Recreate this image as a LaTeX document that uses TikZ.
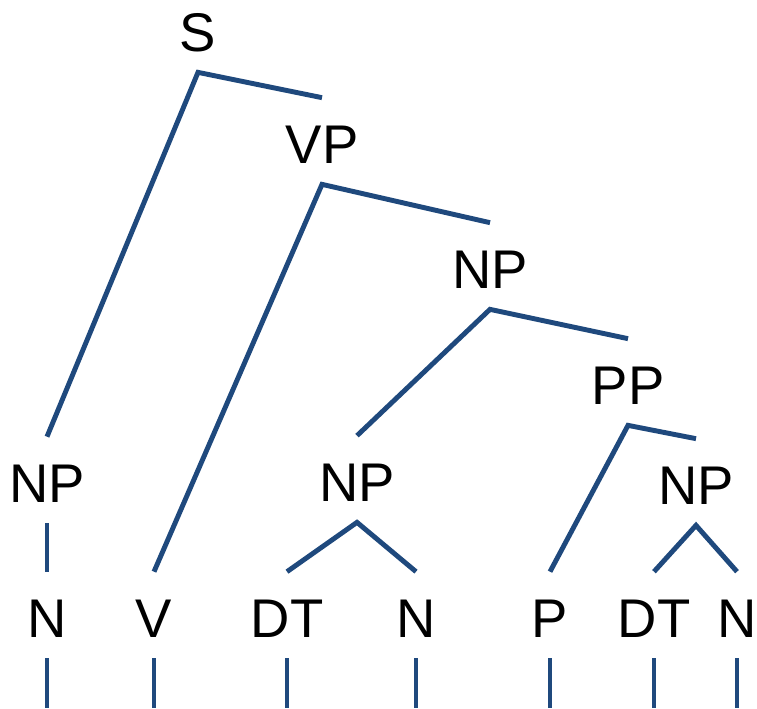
\documentclass[tikz,border=0pt]{standalone}
\usepackage{fontspec}
\setmainfont{Liberation Sans}
\usepackage{xcolor}
\usepackage{tikz}

\definecolor{treeblue}{RGB}{31,73,125}

\begin{document}
\begin{tikzpicture}[x=0.02cm, y=-0.02cm,
    cat/.style={font=\fontsize{31}{37}\selectfont, text height=0.88cm, text depth=0pt,
        inner xsep=0pt, inner ysep=0.42cm, anchor=base},
    edge/.style={draw=treeblue, line width=2.8pt}]
    \useasboundingbox (0,0) rectangle (757,708);
    % phrase nodes
    \node[cat] (s) at (198,51) {S};
    \node[cat] (vp) at (322,163) {VP};
    \node[cat] (np1) at (490,288) {NP};
    \node[cat] (pp) at (628,404) {PP};
    \node[cat] (np0) at (47,502) {NP};
    \node[cat] (np2) at (357,501) {NP};
    \node[cat] (np3) at (696,504) {NP};
    % word level
    \foreach \w/\x[count=\i] in {N/47, V/154, DT/287, N/416, P/550, DT/654, N/737} {
        \node[cat] (w\i) at (\x,637) {\w};
        \coordinate (e\i) at (\x,708);
        \draw[edge] (w\i.south) -- (e\i);
    }
    \draw[edge] (vp.north) -- (s.south) -- (np0.north);
    \draw[edge] (np1.north) -- (vp.south) -- (w2.north);
    \draw[edge] (pp.north) -- (np1.south) -- (np2.north);
    \draw[edge] (np3.north) -- (pp.south) -- (w5.north);
    \draw[edge] (np0.south) -- (w1.north);
    \draw[edge] (w3.north) -- (np2.south) -- (w4.north);
    \draw[edge] (w6.north) -- (np3.south) -- (w7.north);
\end{tikzpicture}
\end{document}
